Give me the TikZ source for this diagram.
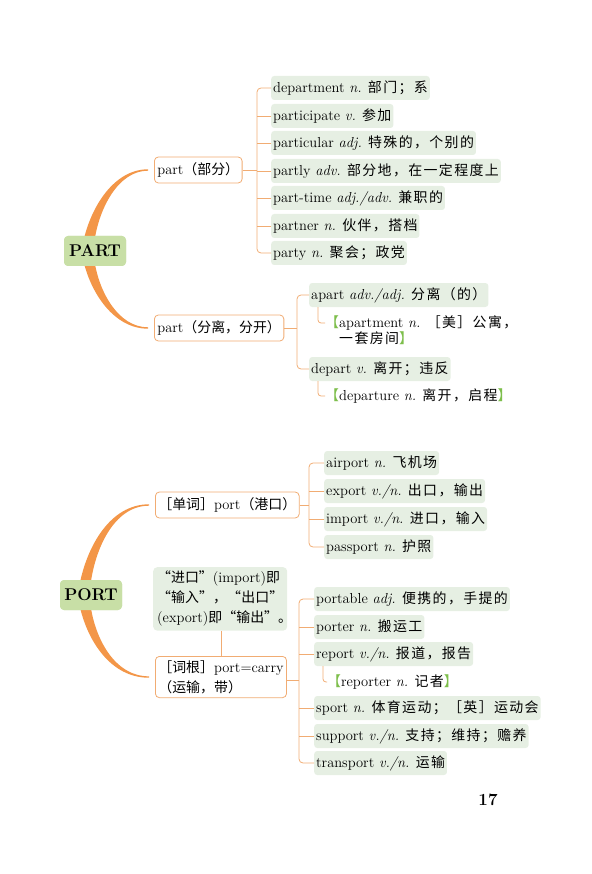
\documentclass[tikz,border=0pt]{standalone}
\usepackage{fontspec}
\newfontfamily\zhfont[Scale=0.96, LetterSpace=10]{Noto Sans CJK SC}
\newfontfamily\ztfont[Scale=0.96]{Noto Sans CJK SC}
\newcommand\zh[1]{{\zhfont #1}}
\newcommand\zt[1]{{\ztfont #1}}
\usetikzlibrary{calc,positioning}
\definecolor{stemor}{RGB}{243,150,72}
\definecolor{lineor}{RGB}{241,172,115}
\definecolor{wdbg}{RGB}{230,239,227}
\definecolor{hubbg}{RGB}{200,223,166}
\definecolor{brgreen}{RGB}{125,190,75}
\newcommand\lb{\textcolor{brgreen}{\zt{【}}}
\newcommand\rb{\textcolor{brgreen}{\zt{】}}}
% tapered branch: start, end, 1 = upwards / -1 = downwards
\newcommand\stem[3]{%
  \fill[stemor] let \p1=(#1), \p2=(#2), \n1={\y2-\y1} in
    (\x1-5.5pt,\y1) .. controls (\x1+2pt,{\y1+0.48*\n1}) and (\x1+25pt,{\y2+(#3)*0.7pt}) .. (\x2,{\y2+(#3)*0.7pt})
    -- (\x2,{\y2-(#3)*0.7pt}) .. controls (\x1+29pt,{\y2-(#3)*0.7pt}) and (\x1+10pt,{\y1+0.45*\n1}) .. (\x1+5.5pt,\y1) -- cycle;}

\begin{document}
\begin{tikzpicture}[x=1pt, y=-1pt, font=\fontsize{14.5}{20}\selectfont,
    hub/.style={fill=hubbg, rounded corners=4pt, minimum width=62pt, minimum height=30pt, inner sep=0pt, font=\fontsize{17}{18}\selectfont\bfseries},
    sub/.style={draw=lineor, line width=0.8pt, fill=white, rounded corners=4pt, minimum height=26pt, inner xsep=3pt, inner ysep=3pt, anchor=west},
    wd/.style={fill=wdbg, rounded corners=3pt, minimum height=24pt, inner xsep=2pt, inner ysep=0pt, anchor=west},
    ex/.style={inner sep=0pt, anchor=west},
    link/.style={lineor, line width=0.8pt}]
  \useasboundingbox (0,0) rectangle (591,874);

  % ---- PART ----
  \node[sub] (p1) at (154,170) {part\zt{（部分）}};
  \node[sub] (p2) at (154,328) {part\zt{（分离，分开）}};
  \node[hub] (part) at (95,251) {PART};
  \stem{[xshift=-6pt,yshift=-5pt]part.north}{[xshift=-6pt]p1.west}{1}
  \stem{[xshift=-6pt,yshift=5pt]part.south}{[xshift=-6pt]p2.west}{-1}
  \node[hub] at (part) {PART};

  \node[wd] (d1) at (271,88)  {department \textit{n.} \zh{部门；系}};
  \node[wd] (d2) at (271,116) {participate \textit{v.} \zh{参加}};
  \node[wd] (d3) at (271,143) {particular \textit{adj.} \zh{特殊的，个别的}};
  \node[wd] (d4) at (271,171) {partly \textit{adv.} \zh{部分地，在一定程度上}};
  \node[wd] (d5) at (271,198) {part-time \textit{adj./adv.} \zh{兼职的}};
  \node[wd] (d6) at (271,226) {partner \textit{n.} \zh{伙伴，搭档}};
  \node[wd] (d7) at (271,253) {party \textit{n.} \zh{聚会；政党}};
  \coordinate (b1) at (257,170);
  \draw[link] (p1) -- (b1);
  \draw[link, rounded corners=4pt] (d1.west) -| (b1) |- (d7.west);
  \foreach \i in {2,...,6}
    \draw[link] (d\i.west) -- (d\i.west -| b1);

  \node[wd] (a1) at (309,295) {apart \textit{adv./adj.} \zh{分离（的）}};
  \node[ex] (a1x) at (325,323) {\lb apartment \textit{n.} \zh{［美］公寓，}};
  \node[ex, anchor=north west] (a1y) at ([xshift=14pt,yshift=-1pt]a1x.south west) {\zh{一套房间}\rb};
  \node[wd] (a2) at (309,369) {depart \textit{v.} \zh{离开；违反}};
  \node[ex] (a2x) at (325,396) {\lb departure \textit{n.} \zh{离开，启程}\rb};
  \coordinate (b2) at (297,328);
  \draw[link] (p2) -- (b2);
  \draw[link, rounded corners=4pt] (a1.west) -| (b2) |- (a2.west);
  \draw[link, rounded corners=3pt] ([xshift=9pt]a1.south west) |- (a1x.west);
  \draw[link, rounded corners=3pt] ([xshift=9pt]a2.south west) |- (a2x.west);

  % ---- PORT ----
  \node[sub] (q1) at (155,505) {\zt{［单词］}port\zt{（港口）}};
  \node[sub, anchor=north west, align=left, inner ysep=4pt] (q2) at (155,656) {\zt{［词根］}port=carry\\\zt{（运输，带）}};
  \node[hub] (port) at (91,595) {PORT};
  \stem{[xshift=-6pt,yshift=-5pt]port.north}{[xshift=-6pt]q1.west}{1}
  \stem{[xshift=-6pt,yshift=5pt]port.south}{[xshift=-6pt]q2.west}{-1}
  \node[hub] at (port) {PORT};
  \node[fill=wdbg, rounded corners=4pt, text width=126pt, inner sep=4pt, align=left, anchor=north west] (nt) at (153,567)
    {\zt{“进口”}(import)\zt{即}\\\makebox[\hsize]{\ztfont “\hfill 输\hfill 入\hfill ”\hfill ，\hfill “\hfill 出\hfill 口\hfill ”}\\(export)\zt{即“输出”。}};
  \draw[link] (nt.south -| q2.north) -- (q2.north);

  \node[wd] (e1) at (324,463) {airport \textit{n.} \zh{飞机场}};
  \node[wd] (e2) at (324,491) {export \textit{v./n.} \zh{出口，输出}};
  \node[wd] (e3) at (324,519) {import \textit{v./n.} \zh{进口，输入}};
  \node[wd] (e4) at (324,547) {passport \textit{n.} \zh{护照}};
  \coordinate (b3) at (309,505);
  \draw[link] (q1) -- (b3);
  \draw[link, rounded corners=4pt] (e1.west) -| (b3) |- (e4.west);
  \foreach \i in {2,3}
    \draw[link] (e\i.west) -- (e\i.west -| b3);

  \node[wd] (r1) at (314,599) {portable \textit{adj.} \zh{便携的，手提的}};
  \node[wd] (r2) at (314,627) {porter \textit{n.} \zh{搬运工}};
  \node[wd] (r3) at (314,654) {report \textit{v./n.} \zh{报道，报告}};
  \node[ex] (r3x) at (327,682) {\lb reporter \textit{n.} \zh{记者}\rb};
  \node[wd] (r4) at (314,708) {sport \textit{n.} \zh{体育运动；［英］运动会}};
  \node[wd] (r5) at (314,736) {support \textit{v./n.} \zh{支持；维持；赡养}};
  \node[wd] (r6) at (314,763) {transport \textit{v./n.} \zh{运输}};
  \coordinate (b4) at (299,680);
  \draw[link] (q2.east |- b4) -- (b4);
  \draw[link, rounded corners=4pt] (r1.west) -| (b4) |- (r6.west);
  \foreach \i in {2,...,5}
    \draw[link] (r\i.west) -- (r\i.west -| b4);
  \draw[link, rounded corners=3pt] ([xshift=9pt]r3.south west) |- (r3x.west);

  \node[font=\fontsize{17}{20}\selectfont\bfseries] (pg) at (488,800) {17};
\end{tikzpicture}
\end{document}
